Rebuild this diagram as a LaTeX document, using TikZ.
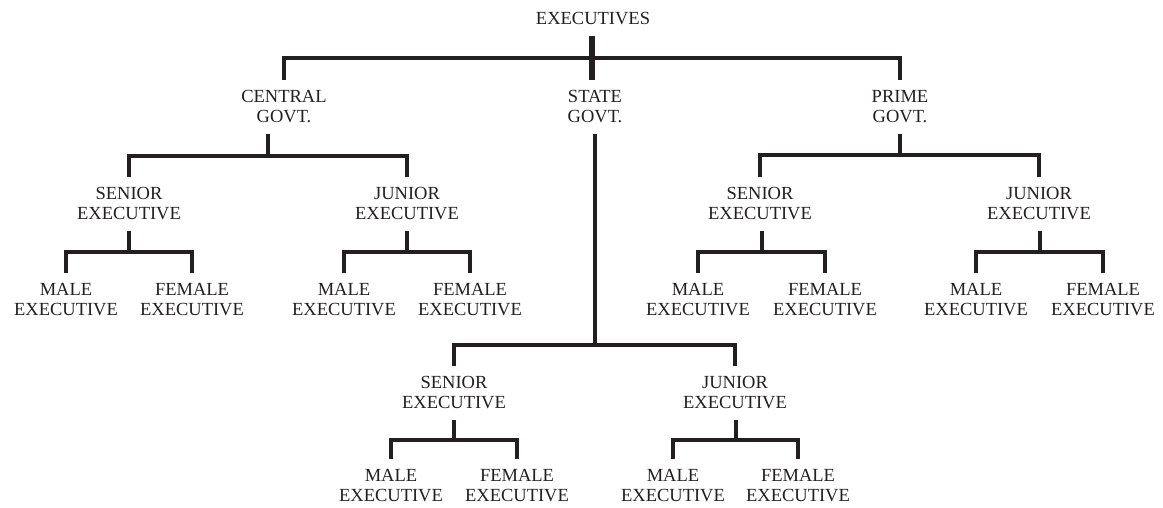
\documentclass[tikz,border=0pt]{standalone}
\usepackage{fontspec}
\setmainfont{Liberation Serif}
\usetikzlibrary{calc}
\definecolor{ink}{HTML}{231F20}

% parent, left child, right child; #1 = where the bar sits between them
\newcommand{\fork}[4][.5]{%
  \coordinate (mid) at ($(#3.north)!.5!(#4.north)$);
  \coordinate (bar) at ($(#2.south)!#1!(mid)$);
  \draw[link] (#2.south-|mid) -- (mid|-bar);
  \draw[link] (#3.north) |- (bar-|#4.north) -- (#4.north);
}

\begin{document}
\begin{tikzpicture}[x=1pt,y=-1pt,
    lbl/.style={align=center,inner xsep=0pt,inner ysep=11pt,text=ink,
      font=\fontsize{18.5}{20}\selectfont},
    link/.style={draw=ink,line width=4pt}]
        \useasboundingbox (0,0) rectangle (1163,507);
        \node[lbl] (exec) at (593,19) {EXECUTIVES};
        \node[lbl] (central) at (284,107) {CENTRAL\\GOVT.};
        \node[lbl] (state) at (595,107) {STATE\\GOVT.};
        \node[lbl] (prime) at (900,107) {PRIME\\GOVT.};
        % central govt.
        \node[lbl] (csen) at (129,204) {SENIOR\\EXECUTIVE};
        \node[lbl] (cjun) at (407,204) {JUNIOR\\EXECUTIVE};
        \node[lbl] (cmale1) at (66,300) {MALE\\EXECUTIVE};
        \node[lbl] (cfem1) at (192,300) {FEMALE\\EXECUTIVE};
        \node[lbl] (cmale2) at (344,300) {MALE\\EXECUTIVE};
        \node[lbl] (cfem2) at (470,300) {FEMALE\\EXECUTIVE};
        % prime govt.
        \node[lbl] (psen) at (760,204) {SENIOR\\EXECUTIVE};
        \node[lbl] (pjun) at (1039,204) {JUNIOR\\EXECUTIVE};
        \node[lbl] (pmale1) at (698,300) {MALE\\EXECUTIVE};
        \node[lbl] (pfem1) at (825,300) {FEMALE\\EXECUTIVE};
        \node[lbl] (pmale2) at (976,300) {MALE\\EXECUTIVE};
        \node[lbl] (pfem2) at (1103,300) {FEMALE\\EXECUTIVE};
        % state govt.
        \node[lbl] (ssen) at (454,393) {SENIOR\\EXECUTIVE};
        \node[lbl] (sjun) at (735,393) {JUNIOR\\EXECUTIVE};
        \node[lbl] (smale1) at (391,486) {MALE\\EXECUTIVE};
        \node[lbl] (sfem1) at (517,486) {FEMALE\\EXECUTIVE};
        \node[lbl] (smale2) at (673,486) {MALE\\EXECUTIVE};
        \node[lbl] (sfem2) at (798,486) {FEMALE\\EXECUTIVE};

        \fork{exec}{central}{prime}
        \draw[link,line width=6pt] (exec.south-|mid) -- (mid|-state.north);
        \fork{central}{csen}{cjun}
        \fork{prime}{psen}{pjun}
        \fork[.91]{state}{ssen}{sjun}
        \fork{csen}{cmale1}{cfem1}
        \fork{cjun}{cmale2}{cfem2}
        \fork{psen}{pmale1}{pfem1}
        \fork{pjun}{pmale2}{pfem2}
        \fork{ssen}{smale1}{sfem1}
        \fork{sjun}{smale2}{sfem2}
    \end{tikzpicture}
\end{document}
